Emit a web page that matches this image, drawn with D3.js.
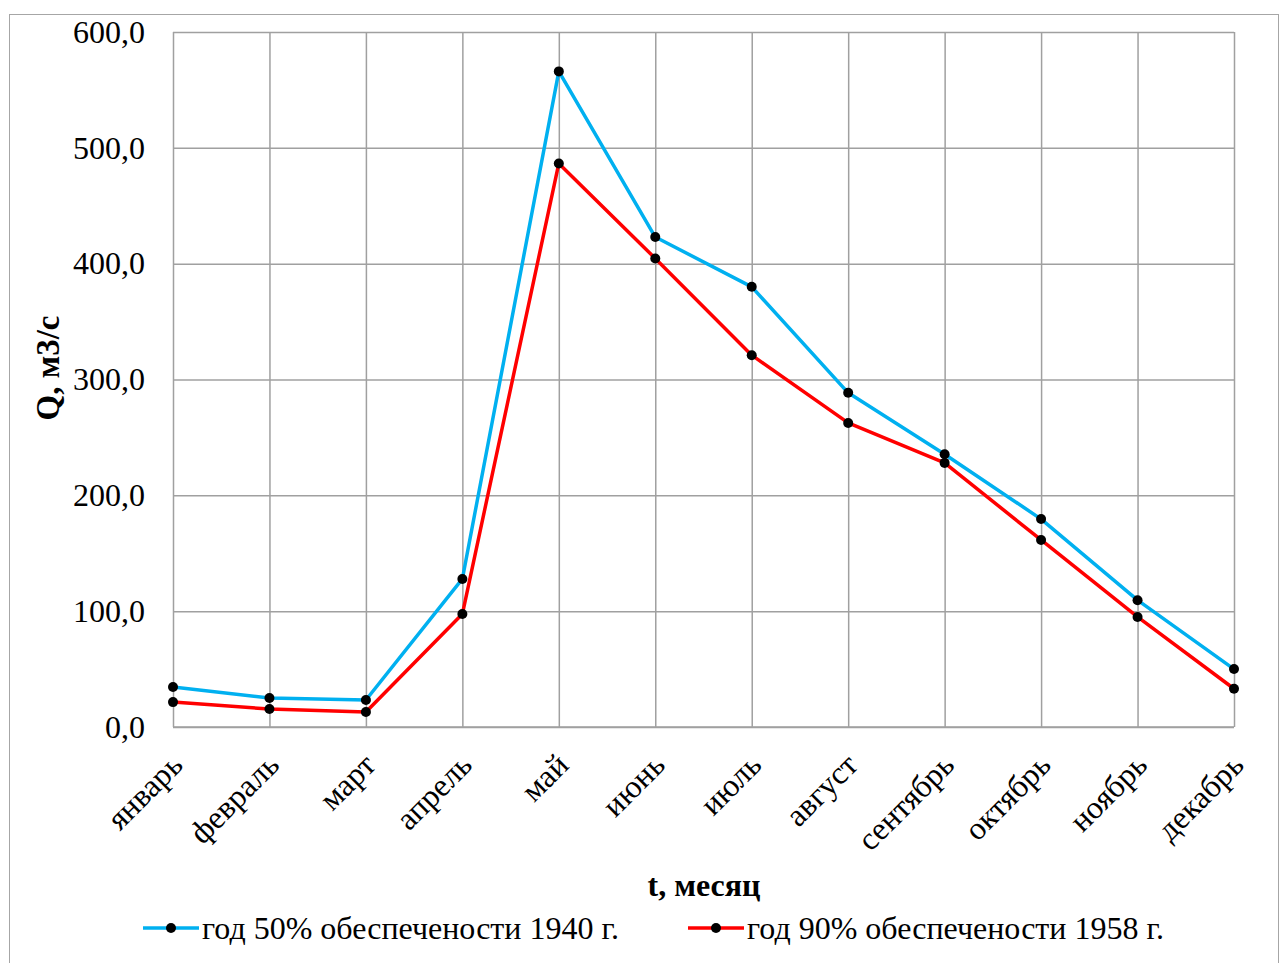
<!DOCTYPE html>
<html>
<head>
<meta charset="utf-8">
<script src="https://cdn.jsdelivr.net/npm/d3@7"></script>
<style>
  html, body { margin: 0; padding: 0; background: #fff; }
  svg { display: block; }
</style>
</head>
<body>
<svg id="chart" width="1280" height="963"></svg>
<script>
// Monthly discharge, m3/s
const months = ["январь", "февраль", "март", "апрель", "май", "июнь", "июль", "август", "сентябрь", "октябрь", "ноябрь", "декабрь"];
const year1940 = [34.5, 25.0, 23.3, 127.8, 566.0, 423.0, 380.0, 288.5, 235.5, 179.5, 109.5, 50.0];
const year1958 = [21.5, 15.5, 13.0, 97.5, 486.5, 404.5, 321.0, 262.5, 228.0, 161.5, 95.0, 33.0];
const yTicks = [0, 100, 200, 300, 400, 500, 600];
const seriesNames = ["год 50% обеспечености 1940 г.", "год 90% обеспечености 1958 г."];
const seriesColors = ["#00B0F0", "#FF0000"];

const FONT = "'Liberation Serif', 'Times New Roman', serif";

const svg = d3.select("#chart");

// outer frame
svg.append("rect")
  .attr("x", 9.5).attr("y", 14.5)
  .attr("width", 1269).attr("height", 960)
  .attr("fill", "none").attr("stroke", "#a6a6a6").attr("stroke-width", 1);

const plot = { left: 173, right: 1234, top: 32, bottom: 727 };

const x = d3.scalePoint().domain(months).range([plot.left, plot.right]);
const y = d3.scaleLinear().domain([0, 600]).range([plot.bottom, plot.top]);

const fmt = v => d3.format(".1f")(v).replace(".", ",");

// horizontal gridlines + y labels
const yAxis = d3.axisLeft(y).tickValues(yTicks).tickFormat(fmt)
  .tickSize(-(plot.right - plot.left)).tickPadding(28);
const gy = svg.append("g").attr("transform", `translate(${plot.left},0)`).call(yAxis)
  .attr("font-family", FONT).attr("font-size", 32);
gy.select(".domain").remove();
gy.selectAll(".tick line").attr("stroke", "#a0a0a0").attr("stroke-width", 1.5);
gy.selectAll(".tick text").attr("fill", "#000");

// vertical gridlines + month labels
const xAxis = d3.axisBottom(x).tickSize(-(plot.bottom - plot.top)).tickPadding(0);
const gx = svg.append("g").attr("transform", `translate(0,${plot.bottom})`).call(xAxis)
  .attr("font-family", FONT).attr("font-size", 32);
gx.select(".domain").remove();
gx.selectAll(".tick line").attr("stroke", "#a0a0a0").attr("stroke-width", 1.5);
gx.selectAll(".tick text")
  .attr("fill", "#000")
  .attr("text-anchor", "end")
  .attr("y", 0)
  .attr("dy", null)
  .attr("transform", "translate(11,40) rotate(-45)");

// bottom axis line
svg.append("line")
  .attr("x1", plot.left).attr("x2", plot.right)
  .attr("y1", plot.bottom).attr("y2", plot.bottom)
  .attr("stroke", "#a0a0a0").attr("stroke-width", 1.5);

// series
const allSeries = [year1940, year1958];
const line = d3.line().x((d, i) => x(months[i])).y(d => y(d));
allSeries.forEach((vals, si) => {
  svg.append("path").datum(vals)
    .attr("d", line)
    .attr("fill", "none")
    .attr("stroke", seriesColors[si])
    .attr("stroke-width", 3.5)
    .attr("stroke-linejoin", "round");
});
allSeries.forEach(vals => {
  svg.append("g").selectAll("circle").data(vals).join("circle")
    .attr("cx", (d, i) => x(months[i]))
    .attr("cy", d => y(d))
    .attr("r", 5)
    .attr("fill", "#000");
});

// axis titles
svg.append("text")
  .attr("transform", `translate(59,368) rotate(-90)`)
  .attr("text-anchor", "middle")
  .attr("font-family", FONT).attr("font-size", 33).attr("font-weight", "bold")
  .text("Q, м3/с");

svg.append("text")
  .attr("x", 704).attr("y", 896)
  .attr("text-anchor", "middle")
  .attr("font-family", FONT).attr("font-size", 32).attr("font-weight", "bold")
  .text("t, месяц");

// legend
const legendItems = [{ x: 143 }, { x: 688 }];
legendItems.forEach((it, i) => {
  const g = svg.append("g").attr("transform", `translate(${it.x},928)`);
  g.append("line").attr("x1", 0).attr("x2", 56).attr("y1", 0).attr("y2", 0)
    .attr("stroke", seriesColors[i]).attr("stroke-width", 3.5);
  g.append("circle").attr("cx", 28).attr("cy", 0).attr("r", 5).attr("fill", "#000");
  g.append("text").attr("x", 59).attr("y", 11)
    .attr("font-family", FONT).attr("font-size", 32)
    .text(seriesNames[i]);
});
</script>
</body>
</html>
